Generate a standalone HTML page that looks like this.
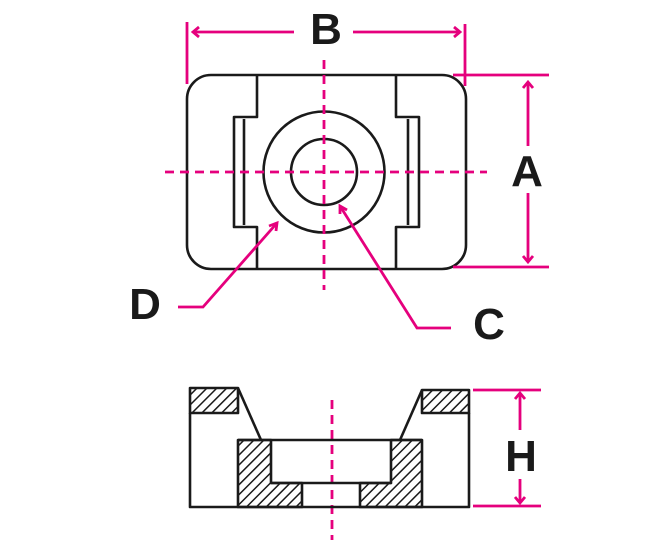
<!DOCTYPE html>
<html><head><meta charset="utf-8"><style>
html,body{margin:0;padding:0;background:#fff;}
svg{display:block;}
text{font-family:"Liberation Sans",sans-serif;font-weight:bold;fill:#1a1a1a;}
</style></head><body>
<svg width="664" height="550" viewBox="0 0 664 550" xmlns="http://www.w3.org/2000/svg">
<defs>
<pattern id="h" width="7" height="7" patternUnits="userSpaceOnUse" patternTransform="rotate(45)">
<rect width="7" height="7" fill="#fff"/><line x1="0" y1="0" x2="0" y2="7" stroke="#1a1a1a" stroke-width="3"/>
</pattern>
</defs>
<g fill="none" stroke="#1a1a1a" stroke-width="2.6" stroke-linejoin="round">
<rect x="187" y="75" width="279" height="194" rx="24"/>
<polyline points="257,75 257,117 234,117 234,227 257,227 257,269"/>
<line x1="244" y1="119" x2="244" y2="225"/>
<polyline points="396,75 396,117 419,117 419,227 396,227 396,269"/>
<line x1="408" y1="119" x2="408" y2="225"/>
<circle cx="324" cy="172" r="60.5"/>
<circle cx="324" cy="172" r="33"/>
</g>
<g stroke="#e5007d" stroke-width="2.8" fill="none">
<line x1="324" y1="60" x2="324" y2="290" stroke-dasharray="9,6"/>
<line x1="165" y1="172" x2="487" y2="172" stroke-dasharray="9,6"/>
<line x1="187" y1="22" x2="187" y2="84"/>
<line x1="465" y1="24" x2="465" y2="86"/>
<line x1="193" y1="32" x2="294" y2="32"/>
<line x1="353" y1="32" x2="460" y2="32"/>
<polyline points="199,27 193,32 199,37"/>
<polyline points="454,27 460,32 454,37"/>
<line x1="453" y1="75" x2="549" y2="75"/>
<line x1="453" y1="267" x2="549" y2="267"/>
<line x1="528" y1="82" x2="528" y2="146"/>
<line x1="528" y1="193" x2="528" y2="262"/>
<polyline points="523,88 528,82 533,88"/>
<polyline points="523,256 528,262 533,256"/>
<polyline points="178,307 203,307 277,223"/>
<polyline points="269,226 277,223 276,231"/>
<polyline points="340,206 417,328 451,328"/>
<polyline points="340,214 340,206 347,210"/>
<line x1="332" y1="400" x2="332" y2="540" stroke-dasharray="9,6"/>
<line x1="473" y1="390" x2="541" y2="390"/>
<line x1="473" y1="506" x2="541" y2="506"/>
<line x1="520" y1="393" x2="520" y2="430"/>
<line x1="520" y1="479" x2="520" y2="503"/>
<polyline points="515,399 520,393 525,399"/>
<polyline points="515,497 520,503 525,497"/>
</g>
<g stroke="#1a1a1a" stroke-width="2.6" stroke-linejoin="round">
<rect x="190" y="388" width="48" height="25" fill="url(#h)"/>
<rect x="422" y="390" width="47" height="23" fill="url(#h)"/>
<path d="M238,440 H271 V483 H302 V507 H238 Z" fill="url(#h)"/>
<path d="M422,440 H391 V483 H360 V507 H422 Z" fill="url(#h)"/>
<g fill="none">
<polyline points="190,413 190,507 469,507 469,413"/>
<line x1="238" y1="388" x2="261" y2="440"/>
<line x1="422" y1="390" x2="400" y2="440"/>
<line x1="238" y1="440" x2="422" y2="440"/>
<line x1="271" y1="483" x2="391" y2="483"/>
</g>
</g>
<text x="326" y="44" font-size="44" text-anchor="middle">B</text>
<text x="527" y="186" font-size="44" text-anchor="middle">A</text>
<text x="145" y="319" font-size="44" text-anchor="middle">D</text>
<text x="489" y="339" font-size="44" text-anchor="middle">C</text>
<text x="521" y="471" font-size="44" text-anchor="middle">H</text>
</svg>
</body></html>
